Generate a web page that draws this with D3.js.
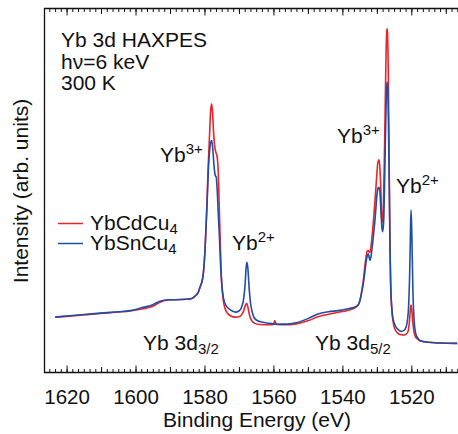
<!DOCTYPE html>
<html>
<head>
<meta charset="utf-8">
<script src="https://cdn.jsdelivr.net/npm/d3@7"></script>
<style>
  html, body { margin: 0; padding: 0; background: #fff; }
  svg text { font-family: "Liberation Sans", Arial, Helvetica, sans-serif; fill: #111; }
</style>
</head>
<body>
<svg id="chart" width="458" height="434"></svg>
<script>
// Yb 3d HAXPES spectra, binding energy (eV) vs intensity (arb. units, 0-100)
const seriesNames = ['YbCdCu4', 'YbSnCu4'];

const cdCuEnergy = [1623.3, 1619.0, 1614.0, 1610.3, 1605.0, 1601.6, 1597.8, 1595.8, 1594.5, 1592.9,
  1590.5, 1588.5, 1584.2, 1582.7, 1581.8, 1581.3, 1580.6, 1580.3, 1579.8, 1579.3,
  1578.9, 1578.5, 1578.2, 1577.9, 1577.6, 1577.3, 1577.0, 1576.7, 1576.3, 1576.0,
  1575.7, 1575.4, 1575.1, 1574.8, 1574.3, 1573.5, 1572.5, 1571.0, 1570.0, 1569.2,
  1568.6, 1568.2, 1567.8, 1567.4, 1567.0, 1566.4, 1565.4, 1564.0, 1561.0, 1560.0,
  1559.6, 1559.2, 1556.0, 1553.8, 1550.0, 1547.1, 1544.0, 1541.3, 1538.0, 1536.3,
  1535.3, 1534.9, 1534.4, 1533.9, 1533.5, 1533.1, 1532.8, 1532.5, 1532.2, 1532.0,
  1531.6, 1531.0, 1530.4, 1530.0, 1529.7, 1529.4, 1529.1, 1528.8, 1528.6, 1528.4,
  1528.1, 1527.8, 1527.5, 1527.3, 1527.1, 1527.0, 1526.9, 1526.7, 1526.5, 1526.3,
  1526.1, 1525.9, 1525.6, 1525.2, 1524.7, 1523.8, 1523.0, 1522.2, 1521.6, 1521.0,
  1520.6, 1520.3, 1520.1, 1519.9, 1519.6, 1519.2, 1518.8, 1518.3, 1517.5, 1515.2,
  1511.7, 1506.7];
const cdCuIntensity = [15.2, 15.5, 15.9, 16.2, 16.6, 16.9, 17.5, 17.9, 18.4, 19.3,
  19.9, 20.0, 20.2, 21.0, 22.0, 23.4, 25.5, 27.5, 34.4, 46,
  57, 66, 72, 73.8, 70.5, 65, 61.9, 60.5, 59.1, 55,
  45, 35, 26.5, 22, 18.5, 16.5, 15.6, 15.2, 15.3, 15.9,
  17.0, 18.3, 19.0, 18.0, 16.0, 14.4, 13.5, 13.2, 13.1, 13.2,
  14.3, 13.2, 13.1, 13.3, 14.2, 15.3, 16.0, 16.5, 17.2, 17.8,
  18.7, 19.8, 22.3, 25.5, 29, 32.0, 33.4, 33.5, 33.0, 33.0,
  35.5, 41.5, 49, 54.5, 57.8, 58.4, 56, 49, 42.5, 41.2,
  46, 60, 78, 89, 94, 94.4, 93, 84, 65, 45,
  30, 22, 16.5, 13.5, 11.8, 10.7, 10.4, 10.3, 10.5, 11.2,
  13.5, 17, 18.5, 17.5, 14, 11.0, 9.8, 9.3, 8.7, 8.3,
  8.1, 8.0];

const snCuEnergy = [1623.3, 1619.0, 1614.0, 1610.3, 1605.0, 1601.6, 1597.8, 1595.0, 1592.9, 1590.5,
  1588.5, 1584.2, 1582.7, 1581.8, 1581.3, 1580.6, 1580.3, 1579.8, 1579.3, 1578.9,
  1578.5, 1578.2, 1577.9, 1577.6, 1577.2, 1576.9, 1576.6, 1576.3, 1576.0, 1575.6,
  1575.3, 1575.0, 1574.5, 1573.7, 1572.6, 1571.0, 1570.0, 1569.2, 1568.6, 1568.2,
  1567.9, 1567.7, 1567.4, 1567.1, 1566.7, 1566.2, 1565.4, 1564.0, 1561.0, 1559.6,
  1556.0, 1553.8, 1550.0, 1547.1, 1544.0, 1541.3, 1538.0, 1536.3, 1535.3, 1534.9,
  1534.4, 1533.9, 1533.5, 1533.1, 1532.7, 1532.5, 1532.2, 1532.0, 1531.6, 1531.0,
  1530.4, 1530.0, 1529.7, 1529.4, 1529.1, 1528.8, 1528.5, 1528.3, 1528.0, 1527.7,
  1527.4, 1527.2, 1527.0, 1526.8, 1526.6, 1526.4, 1526.2, 1526.0, 1525.6, 1525.2,
  1524.7, 1523.8, 1523.0, 1522.2, 1521.6, 1521.1, 1520.8, 1520.5, 1520.3, 1520.1,
  1519.9, 1519.7, 1519.5, 1519.2, 1518.8, 1518.3, 1517.5, 1515.2, 1511.7, 1506.7];
const snCuIntensity = [15.2, 15.6, 16.0, 16.3, 16.7, 17.0, 17.9, 18.6, 19.6, 20.0,
  20.0, 20.2, 21.0, 22.0, 23.4, 25.5, 27.5, 34.4, 45, 55,
  61, 63.2, 63.7, 61.5, 56.5, 54.2, 53.7, 50, 43.7, 36,
  28.9, 24.5, 20.5, 18.3, 17.3, 16.6, 16.9, 18.0, 20.5, 24.5,
  29.0, 30.3, 28.5, 24.0, 19.5, 16.8, 14.8, 14.0, 13.5, 13.3,
  13.3, 13.6, 14.8, 16.1, 16.7, 17.0, 17.6, 18.0, 18.8, 19.8,
  22.0, 24.6, 27.5, 30.5, 32.3, 32.6, 31.5, 30.8, 32.5, 37.5,
  43.5, 48.5, 50.6, 50.9, 49.5, 44.0, 39.5, 38.7, 42, 55,
  70, 77.5, 79.8, 77, 66, 50.9, 35, 24, 17.0, 14.3,
  12.9, 11.8, 11.3, 11.5, 12.3, 14.5, 18.0, 26.5, 36, 44.6,
  40, 30, 21, 14.5, 11.0, 9.7, 8.8, 8.3, 8.1, 8.0];

const seriesColors = ['#ec2329', '#1f4ea6'];
const xDomain = [1626.4, 1506];
const xTickLabels = [1620, 1600, 1580, 1560, 1540, 1520];

const svg = d3.select('#chart');
const plotLeft = 44.5, plotRight = 459.6, plotTop = 8.5, plotBottom = 372.5;

const x = d3.scaleLinear().domain(xDomain).range([plotLeft, plotRight]);
const y = d3.scaleLinear().domain([0, 100]).range([plotBottom, plotTop]);

// Clip for the spectra
svg.append('defs').append('clipPath').attr('id', 'plot-clip')
  .append('rect')
  .attr('x', plotLeft).attr('y', plotTop)
  .attr('width', plotRight - plotLeft).attr('height', plotBottom - plotTop);

const series = [
  { name: seriesNames[0], color: seriesColors[0], e: cdCuEnergy, v: cdCuIntensity },
  { name: seriesNames[1], color: seriesColors[1], e: snCuEnergy, v: snCuIntensity }
];

const line = d3.line()
  .x(d => x(d[0]))
  .y(d => y(d[1]))
  .curve(d3.curveMonotoneX);

svg.append('g').attr('clip-path', 'url(#plot-clip)')
  .selectAll('path')
  .data(series)
  .enter()
  .append('path')
  .attr('d', s => line(s.e.map((e, i) => [e, s.v[i]])))
  .attr('fill', 'none')
  .attr('stroke', s => s.color)
  .attr('stroke-width', 1.6)
  .attr('stroke-linejoin', 'round');

// Ticks: major every 20, medium every 10, minor at 12 per 20 eV
const inDomain = v => v <= xDomain[0] && v >= xDomain[1];
const minorTicks = d3.range(-72, 5).map(k => 1620 + k * 20 / 12).filter(inDomain);
const mediumTicks = d3.range(1630, 1500, -10).filter(v => v % 20 !== 0 && inDomain(v));

function drawTicks(g, axisFn, vals, size) {
  g.call(axisFn(x).tickValues(vals).tickSize(size).tickFormat(''))
    .call(a => a.select('.domain').remove())
    .selectAll('line').attr('stroke', '#111').attr('stroke-width', 1);
}

const bottomG = svg.append('g').attr('transform', `translate(0,${plotBottom})`);
drawTicks(bottomG.append('g'), d3.axisBottom, minorTicks, -3.5);
drawTicks(bottomG.append('g'), d3.axisBottom, mediumTicks, -5.5);
const bottomMajor = bottomG.append('g')
  .call(d3.axisBottom(x).tickValues(xTickLabels).tickSize(-7).tickPadding(17).tickFormat(d3.format('d')))
  .call(a => a.select('.domain').remove());
bottomMajor.selectAll('line').attr('stroke', '#111').attr('stroke-width', 1);
bottomMajor.selectAll('text')
  .attr('font-size', '20.5px')
  .style('font-family', '"Liberation Sans", Arial, sans-serif')
  .attr('fill', '#111');

const topG = svg.append('g').attr('transform', `translate(0,${plotTop})`);
drawTicks(topG.append('g'), d3.axisTop, minorTicks, -3.5);
drawTicks(topG.append('g'), d3.axisTop, mediumTicks, -5.5);
drawTicks(topG.append('g'), d3.axisTop, xTickLabels, -7);

// Frame
svg.append('path')
  .attr('d', `M${plotRight},${plotTop}H${plotLeft}V${plotBottom}H${plotRight}`)
  .attr('fill', 'none')
  .attr('stroke', '#111')
  .attr('stroke-width', 1.3);

// Axis titles
svg.append('text')
  .attr('x', 257).attr('y', 427)
  .attr('text-anchor', 'middle')
  .attr('font-size', '21px')
  .text('Binding Energy (eV)');

svg.append('text')
  .attr('transform', 'translate(28,191) rotate(-90)')
  .attr('text-anchor', 'middle')
  .attr('font-size', '21px')
  .text('Intensity (arb. units)');

// Header
const header = ['Yb 3d HAXPES', 'h\u03bd=6 keV', '300 K'];
svg.selectAll('.header')
  .data(header)
  .enter()
  .append('text')
  .attr('class', 'header')
  .attr('x', 61)
  .attr('y', (d, i) => 47 + i * 21.7)
  .attr('font-size', '21px')
  .text(d => d);

// Legend
const legend = svg.append('g');
series.forEach((s, i) => {
  const ly = 223.5 + i * 20;
  legend.append('line')
    .attr('x1', 58).attr('x2', 83)
    .attr('y1', ly).attr('y2', ly)
    .attr('stroke', s.color).attr('stroke-width', 1.5);
  const t = legend.append('text')
    .attr('x', 90).attr('y', ly + 6.5)
    .attr('font-size', '21px');
  t.append('tspan').text(s.name.slice(0, -1));
  t.append('tspan').attr('font-size', '15px').attr('dy', 4).text(s.name.slice(-1));
});

// Peak labels
const peakLabels = [
  { x: 160, y: 162, base: 'Yb', sup: '3+' },
  { x: 232, y: 250, base: 'Yb', sup: '2+' },
  { x: 337, y: 143, base: 'Yb', sup: '3+' },
  { x: 396, y: 193, base: 'Yb', sup: '2+' }
];
peakLabels.forEach(p => {
  const t = svg.append('text').attr('x', p.x).attr('y', p.y).attr('font-size', '21px');
  t.append('tspan').text(p.base);
  t.append('tspan').attr('font-size', '15px').attr('dy', -8).text(p.sup);
});

const levelLabels = [
  { x: 143, y: 350, base: 'Yb 3d', sub: '3/2' },
  { x: 315, y: 350, base: 'Yb 3d', sub: '5/2' }
];
levelLabels.forEach(p => {
  const t = svg.append('text').attr('x', p.x).attr('y', p.y).attr('font-size', '21px');
  t.append('tspan').text(p.base);
  t.append('tspan').attr('font-size', '15px').attr('dy', 4).text(p.sub);
});
</script>
</body>
</html>
